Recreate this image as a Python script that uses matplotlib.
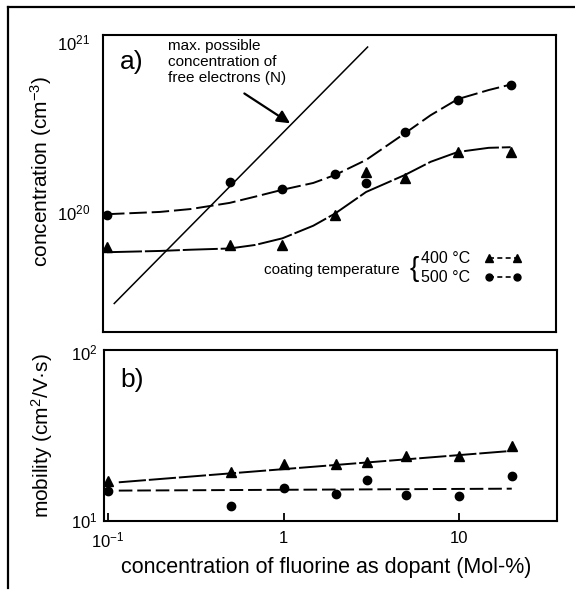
import numpy as np
import matplotlib.pyplot as plt
from matplotlib.lines import Line2D
from matplotlib.ticker import NullLocator, FixedLocator

plt.rcParams['font.family'] = ['Liberation Sans', 'DejaVu Sans']
plt.rcParams['mathtext.fontset'] = 'custom'
plt.rcParams['mathtext.rm'] = 'Liberation Sans'
plt.rcParams['mathtext.it'] = 'Liberation Sans:italic'

# doping levels (Mol-% F)
dopant = [0.1, 0.5, 1, 2, 3, 5, 10, 20]

# a) carrier concentration (cm^-3)
conc_400 = [0.62e20, 0.64e20, 0.64e20, 0.96e20, 1.72e20, 1.58e20, 2.25e20, 2.25e20]
conc_500 = [0.96e20, 1.50e20, 1.36e20, 1.67e20, 1.48e20, 2.95e20, 4.55e20, 5.55e20]

# hand drawn curves through the points
fit_x = [0.1, 0.2, 0.3, 0.5, 0.7, 1, 1.5, 2, 3, 5, 7, 10, 15, 20]
fit_400 = [0.58e20, 0.59e20, 0.60e20, 0.61e20, 0.64e20, 0.70e20, 0.83e20,
           0.98e20, 1.31e20, 1.65e20, 1.97e20, 2.25e20, 2.38e20, 2.40e20]
fit_500 = [0.97e20, 1.00e20, 1.04e20, 1.13e20, 1.23e20, 1.35e20, 1.48e20,
           1.65e20, 2.02e20, 2.90e20, 3.70e20, 4.60e20, 5.20e20, 5.60e20]

# max possible concentration of free electrons (N)
nmax_x = [0.11, 3.06]
nmax_y = [2.9e19, 9.3e20]
arrow_at = (1.14, 3.25e20)

# b) mobility (cm^2/V s)
mob_400 = [17.2, 19.4, 21.6, 21.6, 22.2, 24.1, 24.1, 27.6]
mob_500 = [15.0, 12.1, 15.6, 14.4, 17.4, 14.2, 14.0, 18.4]
mobfit_x = [0.115, 20]
mobfit_400 = [16.8, 25.8]
mobfit_500 = [15.0, 15.4]

xlim = (0.0948, 36.3)

fig = plt.figure(figsize=(5.75, 5.91), dpi=100)
ax1 = fig.add_axes([0.179, 0.438, 0.788, 0.503])
ax2 = fig.add_axes([0.181, 0.1184, 0.788, 0.289])

# frame round the whole figure (top and left visible in the scan)
fig.add_artist(Line2D([8/575, 1.0], [1-7/591, 1-7/591], transform=fig.transFigure, color='black', lw=1.6))
fig.add_artist(Line2D([8/575, 8/575], [1-7/591, 1-588/591], transform=fig.transFigure, color='black', lw=1.6))

for ax in (ax1, ax2):
    ax.set_xscale('log')
    ax.set_yscale('log')
    ax.set_xlim(xlim)
    for s in ax.spines.values():
        s.set_linewidth(1.5)
    ax.xaxis.set_minor_locator(NullLocator())
    ax.yaxis.set_minor_locator(NullLocator())

# ---- panel a
ax1.set_ylim(10**19.294, 10**21.04)
ax1.plot(fit_x, fit_400, color='black', lw=1.4, dashes=(18, 1.5))
ax1.plot(fit_x, fit_500, color='black', lw=1.4, dashes=(9, 2.5))
ax1.plot(dopant, conc_400, '^', color='black', ms=6.5)
ax1.plot(dopant, conc_500, 'o', color='black', ms=6)
ax1.plot(nmax_x, nmax_y, color='black', lw=1.1)

ax1.set_xticks([])
ax1.yaxis.set_major_locator(FixedLocator([1e20, 1e21]))
ax1.set_yticklabels(['10$^{20}$', '10$^{21}$'])
ax1.tick_params(axis='y', length=0, pad=9, labelsize=12)
ax1.set_ylabel('concentration (cm$^{-3}$)', fontsize=15)
ax1.yaxis.set_label_coords(-0.108, 0.54)

ax1.text(0.0375, 0.909, 'a)', transform=ax1.transAxes, fontsize=19, va='center')
ax1.text(0.143, 0.985, 'max. possible\nconcentration of\nfree electrons (N)',
         transform=ax1.transAxes, fontsize=11, va='top', linespacing=1.15)
ax1.annotate('', xy=arrow_at, xycoords='data', xytext=(0.307, 0.808),
             textcoords='axes fraction',
             arrowprops=dict(arrowstyle='-|>', color='black', lw=1.6, mutation_scale=19))

# legend
h400 = Line2D([], [], color='black', marker='^', ms=6, lw=1.2, dashes=(3, 2))
h500 = Line2D([], [], color='black', marker='o', ms=5, lw=1.2, dashes=(3, 2))
ax1.legend([h400, h500], ['400 °C', '500 °C'], loc='center left',
           bbox_to_anchor=(0.702, 0.215), markerfirst=False, numpoints=2,
           frameon=False, fontsize=11.5, handlelength=2.3, handletextpad=0.9,
           labelspacing=0.25, borderpad=0, borderaxespad=0)
ax1.text(0.656, 0.209, 'coating temperature', transform=ax1.transAxes,
         fontsize=11, ha='right', va='center')
ax1.text(0.686, 0.213, '{', transform=ax1.transAxes, fontsize=20,
         ha='center', va='center', fontweight='light')

# ---- panel b
ax2.set_ylim(9.9, 102)
ax2.plot(mobfit_x, mobfit_400, color='black', lw=1.4, dashes=(14, 1.5))
ax2.plot(mobfit_x, mobfit_500, color='black', lw=1.4, dashes=(7, 2.5))
ax2.plot(dopant, mob_400, '^', color='black', ms=6.5)
ax2.plot(dopant, mob_500, 'o', color='black', ms=6)

ax2.xaxis.set_major_locator(FixedLocator([0.1, 1, 10]))
ax2.set_xticklabels(['10$^{-1}$', '1', '10'])
ax2.tick_params(axis='x', direction='in', length=6, width=1.3, pad=7, labelsize=12)
ax2.yaxis.set_major_locator(FixedLocator([10, 100]))
ax2.set_yticklabels(['10$^{1}$', '10$^{2}$'])
ax2.tick_params(axis='y', length=0, pad=5, labelsize=12)
ax2.set_ylabel('mobility (cm$^{2}$/V·s)', fontsize=15)
ax2.yaxis.set_label_coords(-0.108, 0.50)
ax2.set_xlabel('concentration of fluorine as dopant (Mol-%)', fontsize=15.5)
ax2.xaxis.set_label_coords(0.49, -0.21)
ax2.text(0.035, 0.825, 'b)', transform=ax2.transAxes, fontsize=19, va='center')

fig.savefig('out.png', dpi=100)
